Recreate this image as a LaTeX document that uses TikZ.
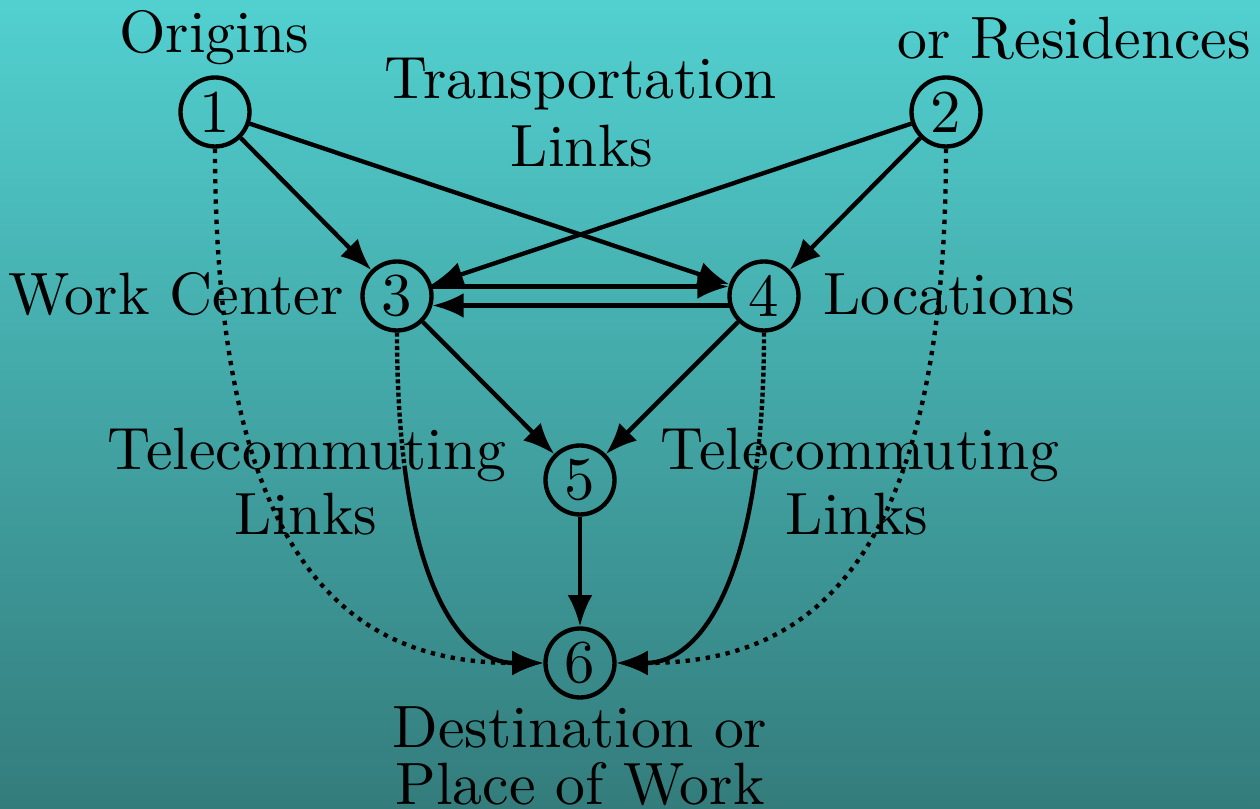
\documentclass[tikz,border=0pt]{standalone}
\usetikzlibrary{arrows.meta}

\definecolor{bgtop}{RGB}{82,208,208}
\definecolor{bgbot}{RGB}{52,124,124}

\tikzset{
  txt/.style={font=\fontsize{10.3pt}{12.4pt}\selectfont},
  vtx/.style={font=\fontsize{10.5pt}{12.6pt}\selectfont, draw, circle, line width=0.75pt, inner sep=0pt, minimum size=11.9pt},
  lbl/.style={txt, inner sep=0pt, anchor=base},
  arr/.style={line width=0.75pt, -{Latex[length=5.4pt,width=4.3pt]}},
  sparsedots/.style={dash pattern=on 0.75pt off 1pt},
  % dots near the start, turning into a solid stroke further down
  fadedots/.style={dash pattern=on .7pt off .45pt on .7pt off .45pt on .7pt off .45pt
    on .7pt off .45pt on .7pt off .45pt on .7pt off .45pt on .7pt off .45pt
    on .7pt off .45pt on .7pt off .45pt on .7pt off .45pt on .7pt off .45pt
    on .7pt off .45pt on .7pt off .45pt on .7pt off .45pt on .7pt off .45pt
    on .7pt off .45pt on .7pt off .45pt on .7pt off .45pt on .7pt off .45pt
    on .7pt off .45pt on 300pt off 0pt}
}

\begin{document}
\begin{tikzpicture}[x=0.1725pt, y=-0.1725pt]
  % background
  \shade[top color=bgtop, bottom color=bgbot] (0,0) rectangle (1260,809);
  \useasboundingbox (0,0) rectangle (1260,809);

  % vertices
  \node[vtx] (n1) at (215,112) {1};
  \node[vtx] (n2) at (946,112) {2};
  \node[vtx] (n3) at (397,296) {3};
  \node[vtx] (n4) at (764,296) {4};
  \node[vtx] (n5) at (580,480) {5};
  \node[vtx] (n6) at (580,663) {6};

  % labels
  \node[lbl] (tOrig) at (214,53) {Origins};
  \node[lbl, anchor=base east] (tRes) at (1252,59) {or Residences};
  \node[lbl] (tTr1) at (581,99) {Transportation};
  \node[lbl] (tTr2) at (582,167) {Links};
  \node[lbl, anchor=base east] (tWork) at (345,315) {Work Center};
  \node[lbl, anchor=base west] (tLoc) at (822,315) {Locations};
  \node[lbl] (tTeL1) at (307,470) {Telecommuting};
  \node[lbl] (tTeL2) at (306,535) {Links};
  \node[lbl] (tTeR1) at (860,470) {Telecommuting};
  \node[lbl] (tTeR2) at (857,535) {Links};
  \node[lbl] (tDest1) at (580,748) {Destination or};
  \node[lbl] (tDest2) at (580,805) {Place of Work};

  % transportation links
  \draw[arr] (n1) -- (n3);
  \draw[arr] (n1) -- (n4);
  \draw[arr] (n2) -- (n3);
  \draw[arr] (n2) -- (n4);
  \draw[arr] (n3.15) -- (n4.165);
  \draw[arr] (n4.-165) -- (n3.-15);
  \draw[arr] (n3) -- (n5);
  \draw[arr] (n4) -- (n5);
  \draw[arr] (n5) -- (n6);

  % telecommuting links
  \draw[arr, sparsedots] (n1.south) .. controls (215,590) and (370,663) .. (n6.west);
  \draw[arr, sparsedots] (n2.south) .. controls (946,590) and (790,663) .. (n6.east);
  \draw[arr, fadedots] (n3.south) .. controls (397,580) and (460,663) .. (n6.west);
  \draw[arr, fadedots] (n4.south) .. controls (764,580) and (700,663) .. (n6.east);
\end{tikzpicture}
\end{document}
